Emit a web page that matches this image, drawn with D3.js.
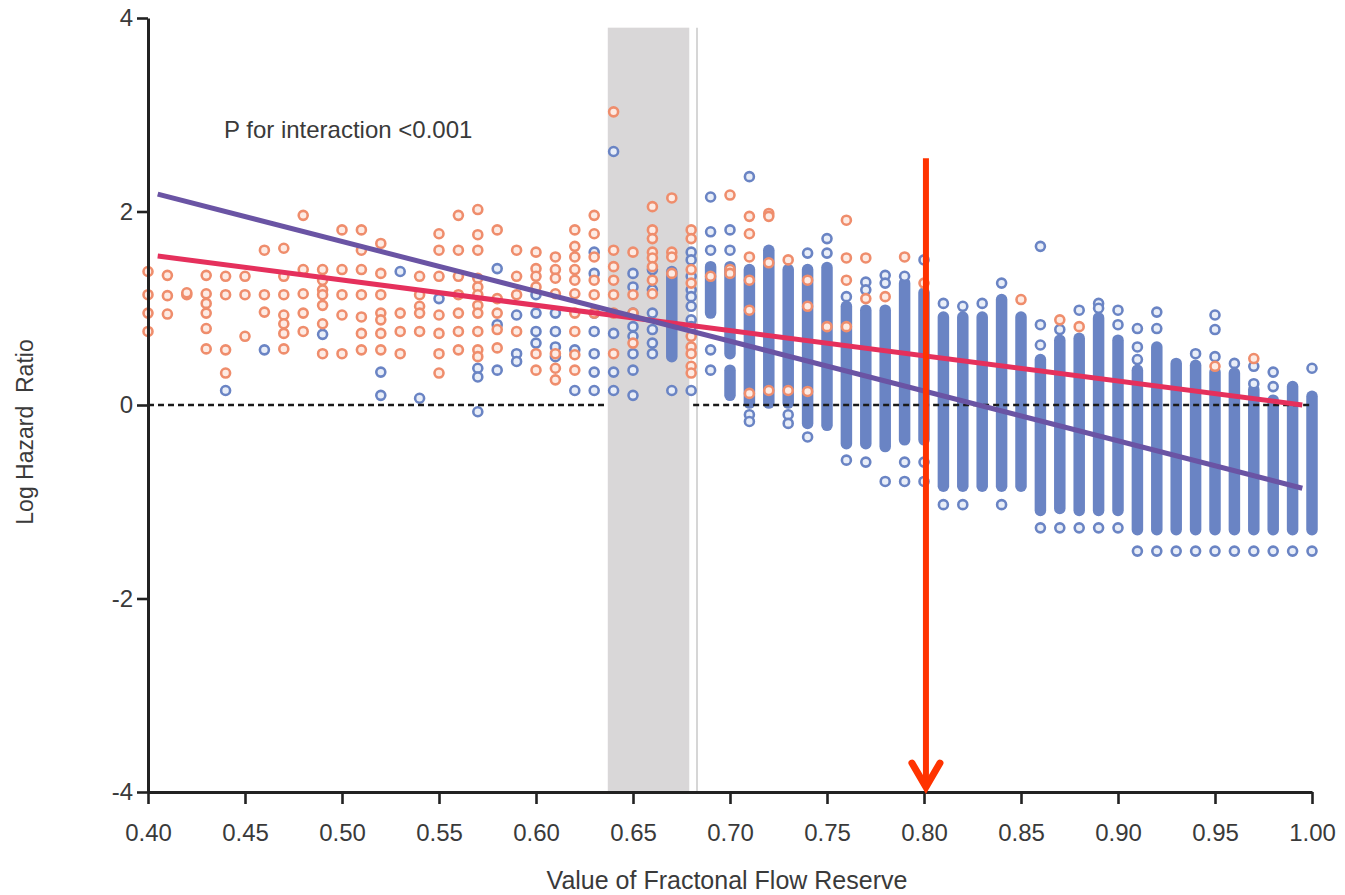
<!DOCTYPE html>
<html><head><meta charset="utf-8">
<script src="https://cdn.jsdelivr.net/npm/d3@7/dist/d3.min.js"></script>
<style>
body{margin:0;background:#fff}
svg{display:block}
text{font-family:"Liberation Sans",Arial,Helvetica,sans-serif;fill:#3a3a3a}
</style>
</head><body>
<svg id="chart" width="1345" height="895"></svg>
<script>
// ---- data ----
const ffr = [0.40,0.41,0.42,0.43,0.44,0.45,0.46,0.47,0.48,0.49,0.50,0.51,0.52,0.53,0.54,0.55,0.56,0.57,0.58,0.59,
  0.60,0.61,0.62,0.63,0.64,0.65,0.66,0.67,0.68,0.69,0.70,0.71,0.72,0.73,0.74,0.75,0.76,0.77,0.78,0.79,
  0.80,0.81,0.82,0.83,0.84,0.85,0.86,0.87,0.88,0.89,0.90,0.91,0.92,0.93,0.94,0.95,0.96,0.97,0.98,0.99,1.00];

// orange group: individual log hazard ratios per FFR column
const orangeVals = [
  [1.38,1.14,0.95,0.76],[1.34,1.13,0.94],[1.14,1.16],[1.34,1.15,1.05,0.95,0.79,0.58],[1.33,1.14,0.57,0.33],
  [1.33,1.14,0.71],[1.60,1.14,0.96],[1.62,1.33,1.14,0.93,0.84,0.74,0.58],[1.96,1.40,1.15,0.95,0.76],[1.40,1.29,1.19,1.14,1.03,0.84,0.53],
  [1.81,1.40,1.14,0.93,0.53],[1.81,1.60,1.40,1.14,0.91,0.74,0.57],[1.67,1.36,1.14,0.95,0.88,0.74,0.57],[0.95,0.76,0.53],[1.33,1.14,1.02,0.95,0.76],
  [1.77,1.60,1.33,0.93,0.74,0.53,0.33],[1.96,1.60,1.33,1.14,0.95,0.76,0.57],[2.02,1.76,1.60,1.31,1.22,1.14,1.03,0.95,0.76,0.57,0.50],[1.81,1.10,0.95,0.78,0.59],[1.60,1.33,1.14,0.76],
  [1.58,1.41,1.33,1.22,0.53,0.36],[1.53,1.40,1.31,1.15,0.53,0.38,0.26],[1.81,1.64,1.53,1.40,1.29,1.15,0.95,0.76,0.52,0.36],[1.96,1.77,1.53,1.29,1.14,0.95],[3.03,1.60,1.43,1.29,1.14,0.95,0.53],
  [1.58,1.14,0.95,0.64],[2.05,1.81,1.72,1.58,1.52,1.43,1.29,1.15],[2.14,1.58,1.53,1.36],[1.81,1.72,1.40,1.26,0.71,0.60,0.53,0.40,0.33],[1.33],
  [2.17,1.40,1.36],[1.95,1.77,1.53,1.29,0.98,0.12],[1.98,1.95,1.47,0.15],[1.50,0.15],[1.29,1.02,0.14],
  [0.81],[1.91,1.52,1.29,0.81],[1.52,1.10],[1.12],[1.53],
  [1.26],[],[],[],[],
  [1.09],[],[0.88],[0.81],[],
  [],[],[],[],[],
  [0.40],[],[0.48],[],[],[]
];

// blue group: isolated points per FFR column
const blueVals = [
  [],[],[],[],[0.15],
  [],[0.57],[],[],[0.73],
  [],[],[0.34,0.10],[1.38],[0.07],
  [1.10],[],[0.38,0.29,-0.07],[1.41,0.83,0.36],[0.93,0.53,0.45],
  [1.14,0.95,0.76,0.64],[0.95,0.76,0.60,0.50],[0.57,0.15],[1.58,1.36,0.95,0.76,0.53,0.34,0.15],[2.62,0.74,0.34,0.15],
  [1.36,1.22,0.95,0.81,0.71,0.53,0.36,0.10],[1.40,1.19,0.95,0.78,0.64,0.53],[0.15],[1.58,1.50,1.33,1.19,1.12,1.02,0.88,0.81,0.15],[2.15,1.79,1.60,0.57,0.36],
  [1.81,1.60],[2.36,-0.10,-0.17],[],[-0.10,-0.19],[1.57,-0.33],
  [1.72,1.57],[1.12,-0.57],[1.27,1.19,-0.59],[1.34,1.26,-0.79],[1.33,-0.59,-0.79],
  [1.50,-0.59,-0.79],[1.05,-1.03],[1.02,-1.03],[1.05],[1.26,-1.03],
  [],[1.64,0.83,0.62,-1.27],[0.78,-1.27],[0.98,-1.27],[1.05,1.00,-1.27],
  [0.98,0.83,-1.27],[0.79,0.60,0.47,-1.51],[0.96,0.79,-1.51],[-1.51],[0.53,-1.51],
  [0.93,0.78,0.50,-1.51],[0.43,-1.51],[0.40,0.22,-1.51],[0.34,0.19,-1.51],[-1.51],[0.38,-1.51]
];

// blue group: densely packed runs of points per column, [top, bottom]
const blueRuns = [
  [],[],[],[],[],[],[],[],[],[],
  [],[],[],[],[],[],[],[],[],[],
  [],[],[],[],[],[],[],[[1.38,0.50]],[],[[1.43,0.95]],
  [[1.43,0.53],[0.36,0.10]],[[1.40,0.02]],[[1.60,0.02]],[[1.40,0.02]],[[1.40,-0.19]],
  [[1.42,-0.21]],[[1.02,-0.40]],[[0.98,-0.40]],[[0.98,-0.43]],[[1.26,-0.36]],
  [[1.16,-0.36]],[[0.91,-0.84]],[[0.91,-0.84]],[[0.91,-0.84]],[[1.09,-0.84]],
  [[0.91,-0.84]],[[0.47,-1.09]],[[0.67,-1.07]],[[0.69,-1.09]],[[0.90,-1.09]],
  [[0.67,-1.09]],[[0.36,-1.29]],[[0.60,-1.29]],[[0.43,-1.29]],[[0.41,-1.29]],
  [[0.34,-1.29]],[[0.33,-1.29]],[[0.16,-1.29]],[[0.05,-1.29]],[[0.19,-1.29]],[[0.09,-1.29]]
];

// fitted lines [ffr, log HR]
const orangeFit = [[0.405,1.54],[0.995,0.00]];
const blueFit = [[0.405,2.18],[0.995,-0.86]];

const xTicks = [0.40,0.45,0.50,0.55,0.60,0.65,0.70,0.75,0.80,0.85,0.90,0.95,1.00];
const yTicks = [-4,-2,0,2,4];
const band = [0.637,0.679];
const bandEdge = 0.683;
const bandTop = 3.90;
const arrowFFR = 0.801;
const arrowFrom = 2.55, arrowTo = -3.98;

// ---- drawing ----
const svg = d3.select("#chart");
const x = d3.scaleLinear().domain([0.40,1.00]).range([148,1312]);
const y = d3.scaleLinear().domain([-4,4]).range([792,18]);

const ORANGE = "#ef8d6c", BLUE = "#6a84c4";

// grey band
svg.append("rect")
  .attr("x", x(band[0])).attr("y", y(bandTop))
  .attr("width", x(band[1]) - x(band[0])).attr("height", y(-4) - y(bandTop))
  .attr("fill", "#d9d7d8");
svg.append("line")
  .attr("x1", x(bandEdge)).attr("x2", x(bandEdge))
  .attr("y1", y(bandTop)).attr("y2", y(-4))
  .attr("stroke", "#d6d6d6").attr("stroke-width", 2);

// blue runs
const runs = [];
blueRuns.forEach((r,i) => r.forEach(s => runs.push({f: ffr[i], a: s[0], b: s[1]})));
svg.append("g").selectAll("line").data(runs).join("line")
  .attr("x1", d => x(d.f)).attr("x2", d => x(d.f))
  .attr("y1", d => y(d.a)).attr("y2", d => y(d.b))
  .attr("stroke", BLUE).attr("stroke-width", 11.5).attr("stroke-linecap", "round");

function flat(arr){ const o=[]; arr.forEach((v,i)=>v.forEach(val=>o.push({f:ffr[i], v:val}))); return o; }

svg.append("g").selectAll("circle").data(flat(blueVals)).join("circle")
  .attr("cx", d => x(d.f)).attr("cy", d => y(d.v)).attr("r", 4.5)
  .attr("fill", "#e9eef8").attr("stroke", BLUE).attr("stroke-width", 2.6);

svg.append("g").selectAll("circle").data(flat(orangeVals)).join("circle")
  .attr("cx", d => x(d.f)).attr("cy", d => y(d.v)).attr("r", 4.5)
  .attr("fill", "#fdebe4").attr("stroke", ORANGE).attr("stroke-width", 2.6);

// zero reference (dashed), interrupted by the band
[[0.40, band[0]], [band[1] + 0.002, 1.00]].forEach(seg => {
  svg.append("line")
    .attr("x1", x(seg[0])).attr("x2", x(seg[1]))
    .attr("y1", y(0)).attr("y2", y(0))
    .attr("stroke", "#1a1a1a").attr("stroke-width", 2.6)
    .attr("stroke-dasharray", "6,4");
});

// fitted lines
const line = d3.line().x(d => x(d[0])).y(d => y(d[1]));
svg.append("path").datum(orangeFit).attr("d", line)
  .attr("fill", "none").attr("stroke", "#e5305c").attr("stroke-width", 5);
svg.append("path").datum(blueFit).attr("d", line)
  .attr("fill", "none").attr("stroke", "#6a54a4").attr("stroke-width", 5);

// axes
const yAxis = svg.append("g").attr("transform", `translate(${x(0.40)},0)`)
  .call(d3.axisLeft(y).tickValues(yTicks).tickSize(11).tickSizeOuter(0).tickPadding(4).tickFormat(d => String(d)));
const xAxis = svg.append("g").attr("transform", `translate(0,${y(-4)})`)
  .call(d3.axisBottom(x).tickValues(xTicks).tickSize(12).tickSizeOuter(0).tickPadding(20).tickFormat(d3.format(".2f")));
[yAxis, xAxis].forEach(g => {
  g.select(".domain").attr("stroke", "#222").attr("stroke-width", 3);
  g.selectAll(".tick line").attr("stroke", "#222").attr("stroke-width", 2.6);
  g.selectAll(".tick text").attr("fill", "#3a3a3a").style("font-size", "24px")
    .style("font-family", '"Liberation Sans",Arial,sans-serif');
});

// arrow
svg.append("line")
  .attr("x1", x(arrowFFR)).attr("x2", x(arrowFFR))
  .attr("y1", y(arrowFrom)).attr("y2", y(arrowTo) - 2)
  .attr("stroke", "#ff3300").attr("stroke-width", 6);
const ax = x(arrowFFR), ay = y(arrowTo);
svg.append("path")
  .attr("d", `M${ax-14},${ay-27} L${ax},${ay-3} L${ax+14},${ay-27}`)
  .attr("fill", "none").attr("stroke", "#ff3300").attr("stroke-width", 7)
  .attr("stroke-linecap", "round").attr("stroke-linejoin", "miter");

// texts
svg.append("text").attr("x", 224).attr("y", 138)
  .style("font-size", "24px").text("P for interaction <0.001");
svg.append("text").attr("x", 727).attr("y", 889).attr("text-anchor", "middle")
  .style("font-size", "25px").text("Value of Fractonal Flow Reserve");
svg.append("text").attr("transform", "translate(33,432) rotate(-90)").attr("text-anchor", "middle")
  .style("font-size", "23px").style("white-space", "pre").text("Log Hazard  Ratio");
</script>
</body></html>
